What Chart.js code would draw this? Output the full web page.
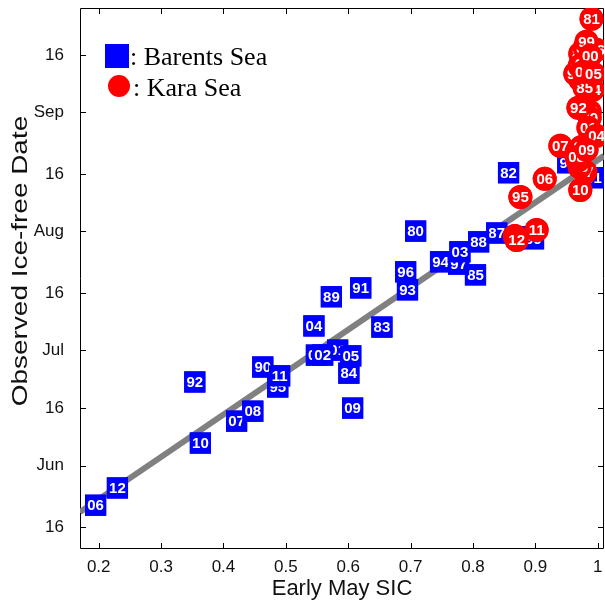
<!DOCTYPE html>
<html>
<head>
<meta charset="utf-8">
<style>
html,body{margin:0;padding:0;background:#fff}
#wrap{width:605px;height:603px}
</style>
</head>
<body>
<div id="wrap"><canvas id="_chart" width="605" height="603"></canvas></div>
<script src="https://cdn.jsdelivr.net/npm/chart.js"></script>
<script>
// early May SIC vs observed ice-free date (day of year), 1980-2012
var years = ['80','81','82','83','84','85','86','87','88','89','90','91','92','93','94','95','96',
	'97','98','99','00','01','02','03','04','05','06','07','08','09','10','11','12'];

var barentsSIC = [0.708, 0.993, 0.857, 0.654, 0.601, 0.804, 0.871, 0.838, 0.809, 0.573, 0.463,
	0.620, 0.354, 0.695, 0.748, 0.487, 0.692, 0.777, 0.952, 0.897, 0.549, 0.583, 0.559, 0.779,
	0.545, 0.604, 0.195, 0.421, 0.447, 0.607, 0.363, 0.490, 0.230];
var barentsDay = [213.1, 227.0, 228.3, 188.1, 176.1, 201.7, 211.6, 212.6, 210.3, 196.0, 177.7,
	198.3, 173.8, 197.8, 205.1, 172.5, 202.5, 204.5, 230.9, 211.1, 180.8, 182.1, 180.8, 207.7,
	188.4, 180.6, 141.7, 163.6, 166.2, 167.0, 157.9, 175.4, 146.2];

var karaSIC = [0.972, 0.990, 0.988, 0.972, 0.992, 0.979, 0.979, 0.980, 0.987, 0.987, 0.964,
	0.867, 0.969, 0.971, 0.971, 0.876, 0.998, 0.977, 0.968, 0.982, 0.988, 0.985, 0.977, 0.974,
	0.998, 0.993, 0.915, 0.940, 0.966, 0.982, 0.972, 0.902, 0.870];
var karaDay = [259.3, 268.4, 252.0, 252.5, 249.9, 250.4, 260.8, 228.5, 244.2, 242.6, 254.1,
	211.8, 245.2, 229.8, 256.1, 222.0, 260.3, 256.7, 231.4, 262.4, 258.8, 240.0, 254.6, 235.0,
	237.9, 254.1, 226.7, 235.3, 232.4, 234.3, 223.8, 213.4, 210.8];

var fitSIC = [0.17, 1.01];
var fitDay = [139.9, 232.7];

var sicTicks = [0.2, 0.3, 0.4, 0.5, 0.6, 0.7, 0.8, 0.9, 1];
var dayTicks = [136, 152, 167, 182, 197, 213, 228, 244, 259];
var dayLabels = ['16', 'Jun', '16', 'Jul', '16', 'Aug', '16', 'Sep', '16'];

var pts = (xs, ys) => xs.map((x, i) => ({x, y: ys[i]}));

// point + its year label, one after another, so later ones cover earlier ones
var yearLabels = {
	id: 'yearLabels',
	afterDatasetDraw(chart, args) {
		var ds = chart.data.datasets[args.index];
		if (!ds.years) return;
		var ctx = chart.ctx, a = chart.chartArea;
		ctx.save();
		ctx.beginPath();
		ctx.rect(a.left, a.top, a.right - a.left, a.bottom - a.top);
		ctx.clip();
		ctx.font = 'bold 15px "Liberation Sans", Arial, sans-serif';
		ctx.textAlign = 'center';
		ctx.textBaseline = 'middle';
		args.meta.data.forEach((el, i) => {
			el.draw(ctx, a);
			ctx.fillStyle = 'white';
			ctx.fillText(ds.years[i], el.x, el.y + 1);
		});
		ctx.restore();
	}
};

// box with inward ticks, the stretched y title and the in-plot key
var frame = {
	id: 'frame',
	beforeDatasetsDraw(chart) {
		var ctx = chart.ctx, a = chart.chartArea;
		var xs = chart.scales.x, ys = chart.scales.y;
		ctx.save();
		ctx.strokeStyle = 'black';
		ctx.lineWidth = 1;
		ctx.beginPath();
		ctx.rect(a.left + 0.5, a.top + 0.5, a.right - a.left - 1, a.bottom - a.top - 1);
		sicTicks.forEach(v => {
			var px = Math.round(xs.getPixelForValue(v)) + 0.5;
			ctx.moveTo(px, a.bottom); ctx.lineTo(px, a.bottom - 6);
			ctx.moveTo(px, a.top); ctx.lineTo(px, a.top + 6);
		});
		dayTicks.forEach(v => {
			var py = Math.round(ys.getPixelForValue(v)) + 0.5;
			ctx.moveTo(a.left, py); ctx.lineTo(a.left + 6, py);
			ctx.moveTo(a.right, py); ctx.lineTo(a.right - 6, py);
		});
		ctx.stroke();

		ctx.fillStyle = '#111';
		ctx.font = '22px "Liberation Sans", Arial, sans-serif';
		ctx.textAlign = 'center';
		ctx.textBaseline = 'middle';
		ctx.translate(21, 261);
		ctx.rotate(-Math.PI / 2);
		ctx.scale(1.27, 1);
		ctx.fillText('Observed Ice-free Date', 0, 0);
		ctx.restore();
	},
	afterDraw(chart) {
		var ctx = chart.ctx, a = chart.chartArea;
		ctx.save();
		ctx.fillStyle = 'blue';
		ctx.fillRect(a.left + 25, a.top + 36, 24, 24);
		ctx.fillStyle = 'red';
		ctx.beginPath();
		ctx.arc(a.left + 39, a.top + 78, 11, 0, Math.PI * 2);
		ctx.fill();
		ctx.fillStyle = 'black';
		ctx.font = '26px "Liberation Serif", "Times New Roman", serif';
		ctx.textBaseline = 'alphabetic';
		ctx.fillText(': Barents Sea', a.left + 50, a.top + 57);
		ctx.fillText(': Kara Sea', a.left + 53, a.top + 88);
		ctx.restore();
	}
};

var noPad = s => { s.paddingLeft = 0; s.paddingRight = 0; s.paddingTop = 0; s.paddingBottom = 0; };

var chart = new Chart(_chart, {
	type: 'scatter',
	data: {
		datasets: [
			{
				data: pts(karaSIC, karaDay),
				years,
				label: 'Kara Sea',
				pointStyle: 'circle',
				pointRadius: 12,
				backgroundColor: '#ff0000',
				borderColor: '#ff0000',
				borderWidth: 0,
				order: 0,
			},
			{
				data: pts(barentsSIC, barentsDay),
				years,
				label: 'Barents Sea',
				pointStyle: 'rect',
				pointRadius: 15,
				backgroundColor: '#0000ff',
				borderColor: '#0000ff',
				borderWidth: 0,
				order: 1,
			},
			{
				type: 'line',
				data: pts(fitSIC, fitDay),
				label: 'fit',
				showLine: true,
				borderColor: '#808080',
				borderWidth: 6,
				pointRadius: 0,
				order: 2,
			}
		]
	},
	options: {
		responsive: false,
		animation: false,
		events: [],
		layout: { autoPadding: false, padding: { top: 8, right: 1, left: 0, bottom: 0 } },
		scales: {
			x: {
				type: 'linear', min: 0.17, max: 1.01,
				afterBuildTicks: s => { s.ticks = sicTicks.map(v => ({value: v})); },
				afterFit: s => { s.height = 54; noPad(s); },
				ticks: {
					color: '#111', padding: 0,
					font: { family: '"Liberation Sans", Arial', size: 17 },
					callback: v => v === 1 ? '1' : v.toFixed(1),
				},
				grid: { display: false },
				border: { display: false },
				title: {
					display: true, text: 'Early May SIC', color: '#111',
					font: { family: '"Liberation Sans", Arial', size: 22 },
					padding: { top: 0, bottom: 1 },
				},
			},
			y: {
				type: 'linear', min: 130.3, max: 271.2,
				afterBuildTicks: s => { s.ticks = dayTicks.map(v => ({value: v})); },
				afterFit: s => { s.width = 80; noPad(s); },
				ticks: {
					color: '#111', padding: 8,
					font: { family: '"Liberation Sans", Arial', size: 17 },
					callback: v => dayLabels[dayTicks.indexOf(v)],
				},
				grid: { display: false },
				border: { display: false },
			}
		},
		plugins: {
			legend: { display: false },
			tooltip: { enabled: false },
		}
	},
	plugins: [yearLabels, frame]
});
</script>
</body>
</html>
